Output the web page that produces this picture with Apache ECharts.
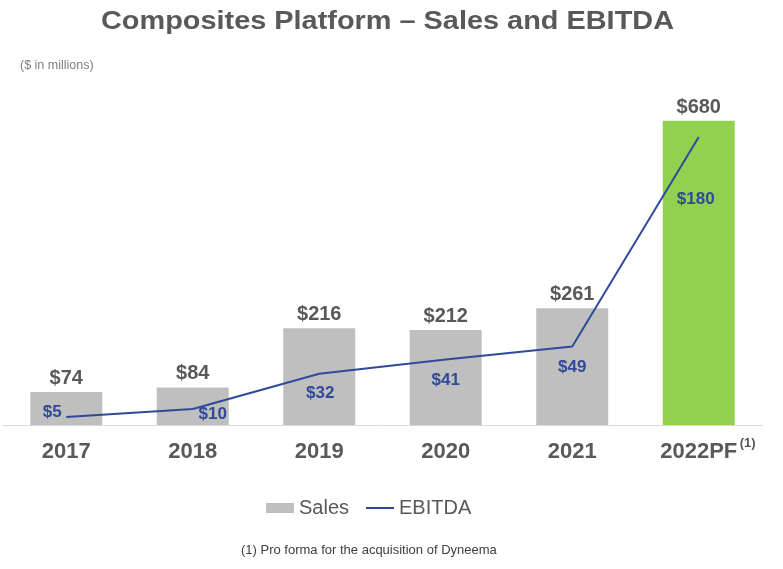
<!DOCTYPE html>
<html><head><meta charset="utf-8">
<script src="https://cdn.jsdelivr.net/npm/echarts@6/dist/echarts.min.js"></script>
<style>html,body{margin:0;padding:0;background:#fff}#c{width:783px;height:569px}</style>
</head><body><div id="c"></div>
<script>
// ---- data ----
const categories = ['2017', '2018', '2019', '2020', '2021', '2022PF'];
const salesValues = [74, 84, 216, 212, 261, 680];
const ebitdaValues = [5, 10, 32, 41, 49, 180];
const titleText = 'Composites Platform \u2013 Sales and EBITDA';
const unitText = '($ in millions)';
const footnoteText = '(1) Pro forma for the acquisition of Dyneema';
const footnoteMark = '(1)';
const footnoteCategory = '2022PF';

// ---- styling ----
const FONT = '"Liberation Sans", Arial, Helvetica, sans-serif';
const GRAY_TEXT = '#595959';
const BAR_GRAY = '#bfbfbf';
const BAR_GREEN = '#92d050';
const LINE_BLUE = '#2f4a9a';
const ebitdaLabelOffsets = [[-14, -5], [20, 5], [1, 20], [0, 21], [0, 21], [-3, 62]];

const chart = echarts.init(document.getElementById('c'), null, { renderer: 'canvas' });

const salesData = salesValues.map((v, i) => ({
  value: v,
  itemStyle: { color: i === salesValues.length - 1 ? BAR_GREEN : BAR_GRAY }
}));
const ebitdaData = ebitdaValues.map((v, i) => ({
  value: v,
  label: { offset: ebitdaLabelOffsets[i] }
}));

const baseGraphics = [
  { type: 'text', x: 387.5, y: 22, scaleX: 1.09, style: { text: titleText, x: 0, y: 0, textAlign: 'center', textVerticalAlign: 'middle', fontSize: 26.5, fontWeight: 'bold', fill: GRAY_TEXT, fontFamily: FONT } },
  { type: 'text', left: 20, top: 59, style: { text: unitText, fontSize: 12.5, fill: '#7f7f7f', fontFamily: FONT } },
  { type: 'text', left: 241, top: 544, style: { text: footnoteText, fontSize: 13, fill: '#404040', fontFamily: FONT } }
];

chart.setOption({
  animation: false,
  textStyle: { fontFamily: FONT },
  grid: { left: 3, right: 21, top: 105, bottom: 144, containLabel: false },
  legend: {
    left: 266, top: 498, padding: 0,
    itemWidth: 28, itemHeight: 10, itemGap: 16,
    textStyle: { fontSize: 20, color: GRAY_TEXT, fontFamily: FONT },
    data: [
      { name: 'Sales', icon: 'rect' },
      { name: 'EBITDA', itemStyle: { opacity: 0 } }
    ]
  },
  xAxis: {
    type: 'category',
    data: categories,
    axisTick: { show: false },
    axisLine: { lineStyle: { color: '#d9d9d9', width: 1 } },
    axisLabel: {
      interval: 0,
      margin: 16,
      fontSize: 22, fontWeight: 'bold', color: GRAY_TEXT, fontFamily: FONT
    }
  },
  yAxis: [
    { type: 'value', min: 0, max: 715, show: false, splitLine: { show: false } },
    { type: 'value', min: 0, max: 200, show: false, splitLine: { show: false } }
  ],
  series: [
    {
      name: 'Sales', type: 'bar', yAxisIndex: 0, barWidth: 72,
      itemStyle: { color: BAR_GRAY },
      data: salesData,
      label: {
        show: true, position: 'top', distance: 3.5,
        fontSize: 20, fontWeight: 'bold', color: GRAY_TEXT, fontFamily: FONT,
        formatter: p => '$' + p.value
      }
    },
    {
      name: 'EBITDA', type: 'line', yAxisIndex: 1,
      symbol: 'circle', symbolSize: 0,
      itemStyle: { color: LINE_BLUE },
      lineStyle: { color: LINE_BLUE, width: 2 },
      data: ebitdaData,
      label: {
        show: true, position: 'inside',
        fontSize: 17, fontWeight: 'bold', color: LINE_BLUE, fontFamily: FONT,
        formatter: p => '$' + p.value
      },
      z: 3
    }
  ],
  graphic: baseGraphics
});

// superscript footnote mark next to the 2022PF axis label, positioned from the axis scale
const catPx = chart.convertToPixel({ xAxisIndex: 0 }, footnoteCategory);
const basePx = chart.convertToPixel({ yAxisIndex: 0 }, 0);
chart.setOption({
  graphic: baseGraphics.concat([
    { type: 'text', x: catPx + 41, y: basePx + 12, style: { text: footnoteMark, x: 0, y: 0, fontSize: 13, fontWeight: 'bold', fill: GRAY_TEXT, fontFamily: FONT } }
  ])
});
</script>
</body></html>
